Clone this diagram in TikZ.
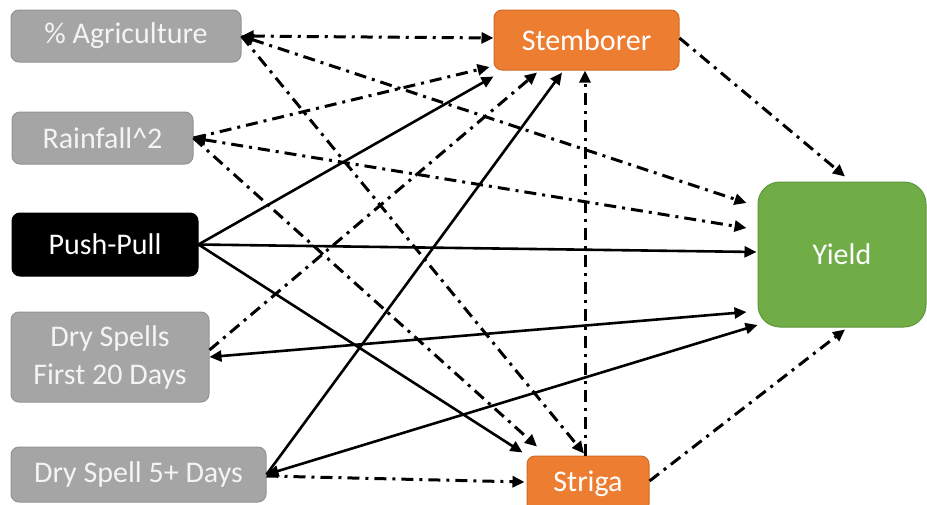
\documentclass[tikz,border=0pt]{standalone}
\usepackage{fontspec}
\setmainfont{Carlito}
\usetikzlibrary{arrows.meta,calc}

\definecolor{boxgray}{HTML}{A5A5A5}
\definecolor{boxgrayline}{HTML}{939393}
\definecolor{boxorange}{HTML}{ED7D31}
\definecolor{boxorangeline}{HTML}{D06A26}
\definecolor{boxgreen}{HTML}{70AD47}
\definecolor{boxgreenline}{HTML}{5E9639}
\definecolor{softwhite}{HTML}{F4F4F4}

\begin{document}
\begin{tikzpicture}[x=1pt,y=-1pt,
  >={Triangle[length=12pt,width=11pt]},
  box/.style={rounded corners=8pt, line width=1pt, inner sep=0pt,
    align=center, text=white, font=\fontsize{30}{38}\selectfont},
  graybox/.style={box, fill=boxgray, draw=boxgrayline, text=softwhite},
  blackbox/.style={box, fill=black, draw=black},
  orangebox/.style={box, fill=boxorange, draw=boxorangeline},
  greenbox/.style={box, fill=boxgreen, draw=boxgreenline, rounded corners=22pt},
  effect/.style={line width=2.6pt, ->},
  assoc/.style={line width=3pt, ->, dash pattern=on 12pt off 6pt on 3pt off 6pt},
]
\clip (0,0) rectangle (927,504);

% covariates on the left
\node[graybox, minimum width=230pt, minimum height=52pt] (agri) at (126,36) {\% Agriculture};
\node[graybox, minimum width=181pt, minimum height=52pt] (rain) at (102.5,138) {Rainfall\^{}2};
\node[blackbox, minimum width=186pt, minimum height=63pt] (push) at (105,244.5) {Push-Pull};
\node[graybox, minimum width=198pt, minimum height=90pt] (dry20) at (110,357) {Dry Spells\\First 20 Days};
\node[graybox, minimum width=255pt, minimum height=55pt] (dry5) at (138.5,474.5) {Dry Spell 5+ Days};

% pests and outcome
\node[orangebox, minimum width=185pt, minimum height=60pt] (stem) at (586.5,40) {Stemborer};
\node[orangebox, minimum width=122pt, minimum height=56pt] (striga) at (588,484) {Striga};
\node[greenbox, minimum width=168pt, minimum height=145pt] (yield) at (842,254.5) {Yield};

% % Agriculture
\draw[assoc, <->] (agri.east) -- ($(stem.west)+(0,-2)$);
\draw[assoc, <->] (agri.east) -- ($(yield.west)+(-11,-51.5)$);
\draw[assoc] (agri.east) -- ($(striga.north)+(-4,-2)$);

% Rainfall^2
\draw[assoc] (rain.east) -- ($(stem.west)+(-4,27)$);
\draw[assoc, <->] (rain.east) -- ($(yield.west)+(-11,-26.5)$);
\draw[assoc] (rain.east) -- ($(striga.north)+(-51,-9)$);

% Push-Pull
\draw[effect] (push.east) -- ($(stem.south west)+(0,6)$);
\draw[effect] (push.east) -- ($(yield.west)+(-1,-2.5)$);
\draw[effect] (push.east) -- ($(striga.north west)+(-4,-3)$);

% Dry Spells First 20 Days
\draw[assoc] ($(dry20.east)+(0,-7)$) -- ($(stem.south)+(-49.5,2)$);
\draw[effect, <->] (dry20.east) -- ($(yield.west)+(-11,57.5)$);

% Dry Spell 5+ Days
\draw[effect] (dry5.east) -- ($(stem.south)+(-24.5,2)$);
\draw[effect, <->] (dry5.east) -- ($(yield.west)+(0,70.5)$);
\draw[assoc] ($(dry5.east)+(0,1.5)$) -- ($(striga.west)+(-2,-2)$);

% pests
\draw[assoc] ($(striga.north)+(-3,0)$) -- ($(stem.south)+(-1.5,0)$);
\draw[assoc] ($(stem.east)+(0,-2)$) -- ($(yield.north)+(3,-5)$);
\draw[assoc] ($(striga.east)+(0,-3)$) -- ($(yield.south)+(3,2)$);
\end{tikzpicture}
\end{document}
